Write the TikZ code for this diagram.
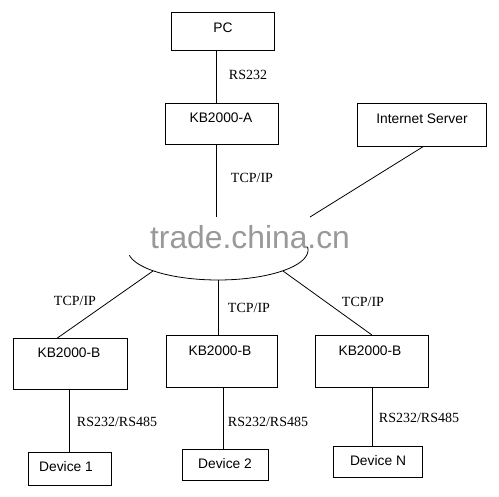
\documentclass[tikz,border=0pt]{standalone}
\usepackage{fontspec}
\setmainfont{Liberation Serif}
\newfontfamily\boxfont{Liberation Sans}
\begin{document}
\begin{tikzpicture}[x=1pt,y=-1pt,
  box/.style={draw, line width=0.8pt, inner sep=0pt, anchor=north west},
  boxtext/.style={font=\boxfont\fontsize{13.8}{16}\selectfont, inner sep=0pt},
  lab/.style={font=\fontsize{14}{16}\selectfont, inner sep=0pt},
  wire/.style={line width=0.8pt}]
\useasboundingbox[fill=white] (0,0) rectangle (499,497);
% watermark
\node[font=\boxfont\fontsize{31.8}{34}\selectfont, text=black!40, inner sep=0pt] (wm) at (250,237) {trade.china.cn};
% boxes
\node[box, minimum width=103pt, minimum height=38pt] (pc) at (171,12) {};
\node[boxtext] (pct) at (223,28) {PC};
\node[box, minimum width=113pt, minimum height=41pt] (ka) at (165,103) {};
\node[boxtext] (kat) at (221,118) {KB2000-A};
\node[box, minimum width=129pt, minimum height=43pt] (is) at (357,103) {};
\node[boxtext] (ist) at (422,119) {Internet Server};
\node[box, minimum width=114pt, minimum height=51pt] (b1) at (13,338) {};
\node[boxtext] (b1t) at (69,353) {KB2000-B};
\node[box, minimum width=111pt, minimum height=52pt] (b2) at (166,335) {};
\node[boxtext] (b2t) at (220,351) {KB2000-B};
\node[box, minimum width=113pt, minimum height=52pt] (b3) at (315,335) {};
\node[boxtext] (b3t) at (370,351) {KB2000-B};
\node[box, minimum width=83pt, minimum height=33pt] (d1) at (28,452) {};
\node[boxtext] (d1t) at (66,467) {Device 1};
\node[box, minimum width=86pt, minimum height=31pt] (d2) at (182,449) {};
\node[boxtext] (d2t) at (225,464) {Device 2};
\node[box, minimum width=89pt, minimum height=31pt] (dn) at (333,446) {};
\node[boxtext] (dnt) at (378,461) {Device N};
% network arc
\draw[wire] plot[domain=-6:170, samples=80] ({218+90*cos(\x)},{250+30*sin(\x)});
\coordinate (ntop) at (216,217);
\coordinate (nright) at (310,217);
\coordinate (nl) at (153,271);
\coordinate (nm) at (218,280);
\coordinate (nr) at (283,271);
\coordinate (x1) at (69,0);
\coordinate (x2) at (223,0);
\coordinate (x3) at (372,0);
% connectors
\draw[wire] (pc.south -| ntop) -- (ka.north -| ntop);
\draw[wire] (ka.south -| ntop) -- (ntop);
\draw[wire] ([xshift=1pt]is.south) -- (nright);
\draw[wire] (nl) -- ([xshift=-13pt]b1.north);
\draw[wire] (nm) -- (b2.north -| nm);
\draw[wire] (nr) -- (b3.north);
\draw[wire] (b1.south -| x1) -- (d1.north -| x1);
\draw[wire] (b2.south -| x2) -- (d2.north -| x2);
\draw[wire] (b3.south -| x3) -- (dn.north -| x3);
% labels
\node[lab] (l1) at (248,75) {RS232};
\node[lab] (l2) at (252,178) {TCP/IP};
\node[lab] (l3) at (75,301) {TCP/IP};
\node[lab] (l4) at (249,308) {TCP/IP};
\node[lab] (l5) at (363,302) {TCP/IP};
\node[lab] (l6) at (117,422) {RS232/RS485};
\node[lab] (l7) at (268,422) {RS232/RS485};
\node[lab] (l8) at (419,418) {RS232/RS485};
\end{tikzpicture}
\end{document}
